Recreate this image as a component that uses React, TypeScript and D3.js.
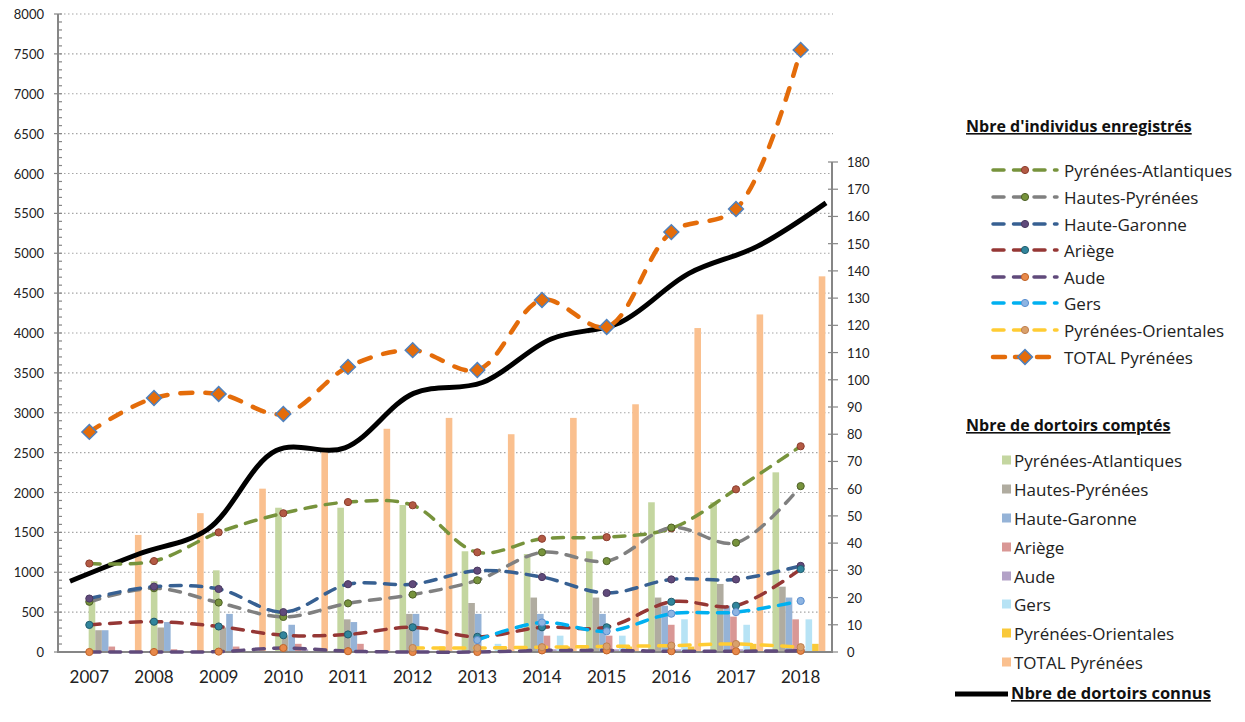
import React from 'react';
import * as d3 from 'd3';

// categories
const years = ['2007', '2008', '2009', '2010', '2011', '2012', '2013', '2014', '2015', '2016', '2017', '2018'];

// Nbre d'individus enregistrés (left axis)
const paInd = [1110, 1140, 1500, 1740, 1880, 1840, 1250, 1420, 1440, 1550, 2040, 2580];
const hpInd = [630, 800, 620, 440, 610, 720, 900, 1250, 1140, 1560, 1370, 2080];
const hgInd = [670, 820, 790, 500, 850, 850, 1020, 940, 740, 910, 910, 1080];
const arInd = [340, 380, 320, 210, 220, 310, 190, 310, 310, 630, 580, 1040];
const audeInd = [0, 0, 5, 50, 10, 0, 0, 20, 20, 10, 10, 15];
const gersInd = [null, null, null, null, null, null, 150, 370, 260, 480, 500, 640];
const poInd = [null, null, null, null, null, 50, 50, 60, 70, 80, 100, 60];
const totalInd = [2760, 3185, 3235, 2985, 3575, 3785, 3535, 4415, 4075, 5265, 5555, 7550];

// Nbre de dortoirs comptés (right axis)
const paDort = [19, 26, 30, 53, 53, 54, 37, 36, 37, 55, 55, 66];
const hpDort = [8, 9, 9, 6, 12, 14, 18, 20, 20, 20, 25, 24];
const hgDort = [8, 11, 14, 10, 11, 14, 14, 14, 14, 17, 17, 20];
const arDort = [2, 1, 2, 3, 3, 0, 0, 6, 6, 10, 13, 12];
const audeDort = [0, 0, 0, 1, 0, 0, 0, 1, 1, 1, 1, 1];
const gersDort = [0, 0, 0, 0, 0, 0, 3, 6, 6, 12, 10, 12];
const poDort = [0, 0, 0, 0, 0, 2, 1, 2, 2, 2, 3, 3];
const totalDort = [43, 51, 60, 75, 82, 86, 80, 86, 91, 119, 124, 138];

// Nbre de dortoirs connus (right axis)
const knownDort = [26, 36, 45, 74, 75, 95, 99, 115, 121, 139, 149, 165];

const leftTicks = d3.range(0, 8001, 500);
const rightTicks = d3.range(0, 181, 10);

const FONT = 'Lato, "Open Sans", sans-serif';
const LEG_FONT = '"Open Sans", Lato, sans-serif';

const W = 1245;
const H = 722;
const plot = { left: 57, right: 833, top: 14, bottom: 652, rightTop: 162 };

const lineSeries = [
  { name: 'Pyrénées-Atlantiques', values: paInd, color: '#77933C', marker: '#b35a44', markerStroke: '#8c3d2e' },
  { name: 'Hautes-Pyrénées', values: hpInd, color: '#808080', marker: '#77933C', markerStroke: '#4f6228' },
  { name: 'Haute-Garonne', values: hgInd, color: '#376092', marker: '#604A7B', markerStroke: '#4a3960' },
  { name: 'Ariège', values: arInd, color: '#953735', marker: '#31859C', markerStroke: '#215d6e' },
  { name: 'Aude', values: audeInd, color: '#604A7B', marker: '#e8894a', markerStroke: '#c0652a' },
  { name: 'Gers', values: gersInd, color: '#00B0F0', marker: '#8DB4E2', markerStroke: '#5b8fcf' },
  { name: 'Pyrénées-Orientales', values: poInd, color: '#FFCC33', marker: '#D9A06B', markerStroke: '#c08050' },
];

const barSeries = [
  { name: 'Pyrénées-Atlantiques', values: paDort, color: '#C4D6A0' },
  { name: 'Hautes-Pyrénées', values: hpDort, color: '#B0ACA0' },
  { name: 'Haute-Garonne', values: hgDort, color: '#95B3D7' },
  { name: 'Ariège', values: arDort, color: '#D99795' },
  { name: 'Aude', values: audeDort, color: '#B3A2C7' },
  { name: 'Gers', values: gersDort, color: '#B7E3F5' },
  { name: 'Pyrénées-Orientales', values: poDort, color: '#F9C93A' },
  { name: 'TOTAL Pyrénées', values: totalDort, color: '#FAC08F' },
];

export default function App() {
  const x = d3.scaleBand<string>().domain(years).range([plot.left, plot.right]);
  const xc = (yr: string) => (x(yr) as number) + x.bandwidth() / 2;
  const yLeft = d3.scaleLinear().domain([0, 8000]).range([plot.bottom, plot.top]);
  const yRight = d3.scaleLinear().domain([0, 180]).range([plot.bottom, plot.rightTop]);

  const xBar = d3.scaleBand<string>().domain(years).range([84, 830]).paddingInner(0.15).paddingOuter(0.075);
  const xSub = d3
    .scaleBand<number>()
    .domain(d3.range(barSeries.length))
    .range([0, xBar.bandwidth()]);
  const xKnown = d3.scalePoint<string>().domain(years).range([70, 826]);

  const smooth = d3.curveCatmullRom.alpha(0.5);

  const lineGen = d3
    .line<number | null>()
    .defined((d) => d != null)
    .x((_, i) => xc(years[i]))
    .y((d) => yLeft(d as number))
    .curve(smooth);

  const knownLine = d3
    .line<number>()
    .x((_, i) => xKnown(years[i]) as number)
    .y((d) => yRight(d))
    .curve(smooth);

  const diamond = d3.symbol().type(d3.symbolSquare).size(110)() as string;

  const leg1Y = [170, 197, 224, 250, 277, 303, 330, 357];
  const leg2Y = [460, 489, 518, 547, 576, 604, 633, 662];

  return (
    <div style={{ position: 'absolute', left: 0, top: 0 }}>
      <svg width={W} height={H} style={{ display: 'block', background: '#fff' }} fontFamily={FONT}>
        {/* gridlines */}
        {leftTicks.slice(1).map((t) => (
          <line
            key={'g' + t}
            x1={plot.left + 3}
            x2={plot.right}
            y1={yLeft(t)}
            y2={yLeft(t)}
            stroke="#a6a6a6"
            strokeWidth={1.2}
            strokeDasharray="1.5 2.5"
          />
        ))}

        {/* bars */}
        {barSeries.map((s, si) =>
          s.values.map((v, i) =>
            v > 0 ? (
              <rect
                key={'b' + si + '-' + i}
                x={(xBar(years[i]) as number) + (xSub(si) as number)}
                y={yRight(v)}
                width={xSub.bandwidth()}
                height={plot.bottom - yRight(v)}
                fill={s.color}
              />
            ) : null
          )
        )}

        {/* axes */}
        <line x1={plot.left} x2={plot.right} y1={plot.bottom} y2={plot.bottom} stroke="#868686" strokeWidth={2} />
        <line x1={58} x2={58} y1={plot.top} y2={plot.bottom} stroke="#868686" strokeWidth={2} />
        {d3.range(0, 8001, 100).map((t) => (
          <line
            key={'lt' + t}
            x1={t % 500 === 0 ? 54 : 58}
            x2={62}
            y1={yLeft(t)}
            y2={yLeft(t)}
            stroke="#868686"
            strokeWidth={1.2}
          />
        ))}
        {leftTicks.map((t) => (
          <text key={'ll' + t} x={44} y={yLeft(t)} textAnchor="end" dominantBaseline="central" fontSize={13} fill="#222">
            {t}
          </text>
        ))}
        <line x1={832} x2={832} y1={plot.rightTop} y2={plot.bottom} stroke="#868686" strokeWidth={2} />
        {rightTicks.map((t) => (
          <line key={'rt' + t} x1={828} x2={838} y1={yRight(t)} y2={yRight(t)} stroke="#868686" strokeWidth={1.2} />
        ))}
        {rightTicks.map((t) => (
          <text key={'rl' + t} x={847} y={yRight(t)} dominantBaseline="central" fontSize={13} fill="#222">
            {t}
          </text>
        ))}
        {years.map((yr) => (
          <text key={'x' + yr} x={xc(yr)} y={683} textAnchor="middle" fontSize={17} fill="#222">
            {yr}
          </text>
        ))}

        {/* dortoirs connus */}
        <path d={knownLine(knownDort) as string} fill="none" stroke="#000" strokeWidth={5} />

        {/* department lines */}
        {lineSeries.map((s) => (
          <g key={'l' + s.name}>
            <path
              d={lineGen(s.values) as string}
              fill="none"
              stroke={s.color}
              strokeWidth={3.5}
              strokeDasharray="11 9.5"
              strokeLinecap="round"
            />
            {s.values.map((v, i) =>
              v == null ? null : (
                <circle
                  key={i}
                  cx={xc(years[i])}
                  cy={yLeft(v)}
                  r={3.6}
                  fill={s.marker}
                  stroke={s.markerStroke}
                  strokeWidth={1}
                />
              )
            )}
          </g>
        ))}

        {/* total */}
        <path
          d={lineGen(totalInd) as string}
          fill="none"
          stroke="#E46C0A"
          strokeWidth={4.5}
          strokeDasharray="12 13"
          strokeLinecap="round"
        />
        {totalInd.map((v, i) => (
          <path
            key={'d' + i}
            d={diamond}
            transform={`translate(${xc(years[i])},${yLeft(v)}) rotate(45)`}
            fill="#E46C0A"
            stroke="#4F81BD"
            strokeWidth={1.5}
          />
        ))}

        {/* legend 1 */}
        <g fontFamily={LEG_FONT}>
          <text x={966} y={132} fontSize={16} fontWeight="bold" fill="#111" textDecoration="underline">
            Nbre d'individus enregistrés
          </text>
          {[...lineSeries, { name: 'TOTAL Pyrénées', color: '#E46C0A', marker: '', markerStroke: '' }].map((s, i) => (
            <g key={'lg1' + i}>
              <line
                x1={993}
                x2={1057}
                y1={leg1Y[i]}
                y2={leg1Y[i]}
                stroke={s.color}
                strokeWidth={s.marker ? 3.5 : 4.5}
                strokeDasharray={s.marker ? '11 9.5' : '12 10'}
                strokeLinecap="round"
              />
              {s.marker ? (
                <circle cx={1025} cy={leg1Y[i]} r={3.6} fill={s.marker} stroke={s.markerStroke} strokeWidth={1} />
              ) : (
                <path
                  d={diamond}
                  transform={`translate(1025,${leg1Y[i]}) rotate(45)`}
                  fill="#E46C0A"
                  stroke="#4F81BD"
                  strokeWidth={1.5}
                />
              )}
              <text x={1064} y={leg1Y[i]} dominantBaseline="central" fontSize={17} fill="#222">
                {s.name}
              </text>
            </g>
          ))}

          {/* legend 2 */}
          <text x={966} y={431} fontSize={16} fontWeight="bold" fill="#111" textDecoration="underline">
            Nbre de dortoirs comptés
          </text>
          {barSeries.map((s, i) => (
            <g key={'lg2' + i}>
              <rect x={1002} y={leg2Y[i] - 4.5} width={9} height={9} fill={s.color} />
              <text x={1014} y={leg2Y[i]} dominantBaseline="central" fontSize={17} fill="#222">
                {s.name}
              </text>
            </g>
          ))}

          {/* legend 3 */}
          <line x1={955} x2={1008} y1={694} y2={694} stroke="#000" strokeWidth={5} />
          <text x={1011} y={699} fontSize={16.5} fontWeight="bold" fill="#111" textDecoration="underline">
            Nbre de dortoirs connus
          </text>
        </g>
      </svg>
    </div>
  );
}
